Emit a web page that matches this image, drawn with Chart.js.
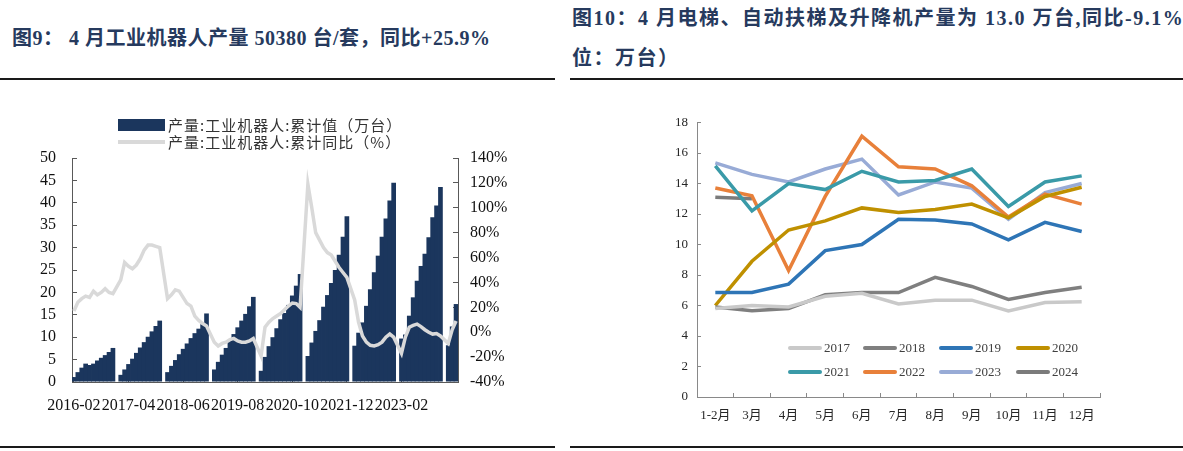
<!DOCTYPE html>
<html lang="zh-CN">
<head>
<meta charset="UTF-8">
<title>工业机器人与电梯产量</title>
<script src="https://cdn.jsdelivr.net/npm/chart.js@4.4.1/dist/chart.umd.min.js"></script>
<style>
    html, body { margin: 0; padding: 0; background: #fff; }
    body {
        width: 1183px; height: 451px; position: relative; overflow: hidden;
        font-family: "Liberation Serif", "Noto Sans CJK SC", serif;
    }
    .title { position: absolute; white-space: nowrap; font-weight: bold; font-size: 20px; line-height: 20px; color: #263a5e; }
    .rule { position: absolute; height: 2px; background: #1a1a1a; }
    .box { position: absolute; }
    .lg { position: absolute; white-space: nowrap; display: flex; align-items: center; }
    .lg .sw { display: inline-block; }
    .robot-lg { font-family: "Noto Sans CJK SC", sans-serif; font-size: 15px; letter-spacing: 1px; color: #333; left: 118px; }
    .lift-lg { font-size: 13px; color: #404040; }
</style>
</head>
<body>

<div class="title" style="left:12px; top:28px; letter-spacing:0.5px;">图9：&nbsp;4 月工业机器人产量 50380 台/套，同比+25.9%</div>
<div class="title" style="left:572px; top:8px; letter-spacing:1.5px;">图10：4 月电梯、自动扶梯及升降机产量为 13.0 万台,同比-9.1%（单</div>
<div class="title" style="left:572px; top:48px; letter-spacing:1.5px;">位：万台）</div>

<div class="rule" style="left:0; width:555px; top:78px;"></div>
<div class="rule" style="left:570px; width:613px; top:78px;"></div>
<div class="rule" style="left:0; width:555px; top:446px;"></div>
<div class="rule" style="left:570px; width:613px; top:446px;"></div>

<div class="box" style="left:0; top:100px;">
    <canvas id="robotChart" width="560" height="330"></canvas>
</div>
<div class="box" style="left:570px; top:100px;">
    <canvas id="liftChart" width="613" height="340"></canvas>
</div>

<!-- 图例 -->
<div class="lg robot-lg" style="top:114px;">
    <span class="sw" style="width:47px; height:12px; background:#1b365d; margin-right:3px;"></span>产量:工业机器人:累计值（万台）
</div>
<div class="lg robot-lg" style="top:131px;">
    <span class="sw" style="width:47px; height:4px; background:#d9d9d9; margin-right:3px;"></span>产量:工业机器人:累计同比（%）
</div>
<div id="liftLegend"></div>

<script>
    // ---- 图9 数据：工业机器人（每年 2-12 月累计，1 月无数据）----
    const robotYears = [2016, 2017, 2018, 2019, 2020, 2021, 2022, 2023, 2024];

    // 累计值（万台）
    const cum2016 = [1.1, 2.2, 3.2, 4.1, 3.8, 4.1, 4.8, 5.4, 6.0, 6.7, 7.6];
    const cum2017 = [1.6, 2.8, 4.0, 5.2, 6.5, 7.7, 8.9, 10.1, 11.3, 12.5, 13.7];
    const cum2018 = [2.2, 3.6, 4.9, 6.2, 7.4, 8.6, 9.8, 10.9, 11.9, 12.9, 15.3];
    const cum2019 = [2.8, 4.5, 6.1, 7.6, 9.2, 10.7, 12.2, 13.7, 15.2, 16.9, 19.0];
    const cum2020 = [2.5, 5.6, 8.0, 10.0, 12.0, 14.0, 15.4, 17.2, 19.3, 21.5, 24.1];
    const cum2021 = [5.8, 8.8, 11.4, 13.8, 16.8, 19.4, 22.1, 25.0, 28.4, 32.4, 37.0];
    const cum2022 = [8.1, 11.0, 13.3, 17.0, 20.7, 24.5, 28.2, 32.4, 36.5, 40.5, 44.5];
    const cum2023 = [9.7, 10.6, 14.8, 18.9, 22.6, 25.9, 28.6, 32.3, 36.8, 39.4, 43.5];
    const cum2024 = [8.2, 12.4, 17.4];

    // 累计同比（%）
    const yoy2016 = [17, 24, 27, 29, 28, 33, 30, 32, 35, 32, 31];
    const yoy2017 = [42, 56, 53, 51, 54, 59, 66, 70, 70, 69, 68];
    const yoy2018 = [27, 30, 34, 33, 28, 23, 21, 13, 9.5, 7, 5];
    const yoy2019 = [-8, -11, -9, -8, -6, -5, -7, -8, -8, -7, -5];
    const yoy2020 = [-19, 4, 8, 11, 13, 15, 18, 21, 23.5, 23, 20];
    const yoy2021 = [119, 100, 80, 74, 68, 64, 62, 57, 52, 48, 44];
    const yoy2022 = [26, 8, -3, -8, -10.5, -11, -10, -8, -4, -1.5, -4];
    const yoy2023 = [-17, -4, 4, 5.5, 6.5, 4.5, 2, 0, -1.5, -1, -3];
    const yoy2024 = [-9, 2, 9];

    const cumByYear = [cum2016, cum2017, cum2018, cum2019, cum2020, cum2021, cum2022, cum2023, cum2024];
    const yoyByYear = [yoy2016, yoy2017, yoy2018, yoy2019, yoy2020, yoy2021, yoy2022, yoy2023, yoy2024];

    // 拼成按月序列，1 月位置留空
    const robotLabels = [];
    const robotCum = [];
    const robotYoY = [];
    robotYears.forEach((year, k) => {
        if (k > 0) {
            robotLabels.push(year + '-01');
            robotCum.push(null);
            robotYoY.push(null);
        }
        cumByYear[k].forEach((v, j) => {
            const m = j + 2;
            robotLabels.push(year + '-' + (m < 10 ? '0' + m : m));
            robotCum.push(v);
            robotYoY.push(yoyByYear[k][j]);
        });
    });
    const robotLabelStep = 14;
    const robotLabelLast = 84; // 最后一个显示的标签（2023-02）

    // ---- 图10 数据：电梯、自动扶梯及升降机月产量（万台）----
    const liftMonths = ['1-2月', '3月', '4月', '5月', '6月', '7月', '8月', '9月', '10月', '11月', '12月'];
    const lift2017 = [5.8, 6.0, 5.9, 6.6, 6.8, 6.1, 6.35, 6.35, 5.65, 6.2, 6.25];
    const lift2018 = [5.9, 5.65, 5.8, 6.7, 6.85, 6.85, 7.85, 7.25, 6.4, 6.85, 7.2];
    const lift2019 = [6.85, 6.85, 7.4, 9.6, 10.0, 11.65, 11.6, 11.35, 10.3, 11.45, 10.85];
    const lift2020 = [6.0, 8.9, 10.95, 11.55, 12.4, 12.1, 12.3, 12.65, 11.75, 13.15, 13.75];
    const lift2021 = [15.15, 12.2, 14.0, 13.6, 14.8, 14.1, 14.2, 14.95, 12.5, 14.1, 14.5];
    const lift2022 = [13.7, 13.2, 8.3, 13.15, 17.1, 15.1, 14.95, 13.85, 11.8, 13.3, 12.65];
    const lift2023 = [15.35, 14.6, 14.1, 14.95, 15.6, 13.25, 14.1, 13.7, 11.65, 13.4, 14.0];
    const lift2024 = [13.1, 13.0];

    const liftSeriesNames = ['2017', '2018', '2019', '2020', '2021', '2022', '2023', '2024'];
    const liftSeries = [lift2017, lift2018, lift2019, lift2020, lift2021, lift2022, lift2023, lift2024];
    const liftColors = ['#c9c9c9', '#7f7f7f', '#2e75b6', '#bf9000', '#3a9aa8', '#e8803a', '#98abd6', '#7b7b7b'];

    const serif = '"Liberation Serif", "Noto Sans CJK SC", serif';

    // 图9
    new Chart(document.getElementById('robotChart'), {
        data: {
            labels: robotLabels,
            datasets: [
                {
                    type: 'line',
                    label: '产量:工业机器人:累计同比（%）',
                    data: robotYoY,
                    yAxisID: 'yRight',
                    borderColor: '#d9d9d9',
                    borderWidth: 3.5,
                    pointRadius: 0,
                    spanGaps: true,
                    tension: 0,
                    order: 0
                },
                {
                    type: 'bar',
                    label: '产量:工业机器人:累计值（万台）',
                    data: robotCum,
                    yAxisID: 'yLeft',
                    backgroundColor: '#1b365d',
                    borderWidth: 0,
                    barPercentage: 1.2,
                    categoryPercentage: 1,
                    order: 1
                }
            ]
        },
        options: {
            responsive: false,
            animation: false,
            layout: { padding: { top: 58, left: 0, right: 0, bottom: 0 } },
            plugins: { legend: { display: false }, tooltip: { enabled: false } },
            scales: {
                x: {
                    grid: { offset: false, drawOnChartArea: false, tickLength: -5, color: '#595959' },
                    border: { color: '#595959' },
                    ticks: {
                        autoSkip: false, maxRotation: 0, padding: 19,
                        color: '#111', font: { family: serif, size: 16 },
                        callback: (v, i) => (i % robotLabelStep === 0 && i <= robotLabelLast ? robotLabels[i] : null)
                    },
                    afterFit: s => { s.height = 48; }
                },
                yLeft: {
                    position: 'left', min: 0, max: 50,
                    grid: { drawOnChartArea: false, tickLength: -5, color: '#595959' },
                    border: { color: '#595959' },
                    ticks: { stepSize: 5, padding: 21, color: '#111', font: { family: serif, size: 16 } },
                    afterFit: s => { s.width = 72; }
                },
                yRight: {
                    position: 'right', min: -40, max: 140,
                    grid: { drawOnChartArea: false, tickLength: -5, color: '#595959' },
                    border: { color: '#595959' },
                    ticks: { stepSize: 20, padding: 17, color: '#111', font: { family: serif, size: 16 },
                        callback: v => v + '%' },
                    afterFit: s => { s.width = 102; }
                }
            }
        }
    });

    // 图10
    new Chart(document.getElementById('liftChart'), {
        type: 'line',
        data: {
            labels: liftMonths,
            datasets: liftSeries.map((d, i) => ({
                label: liftSeriesNames[i],
                data: d,
                borderColor: liftColors[i],
                backgroundColor: liftColors[i],
                borderWidth: 3.5,
                pointRadius: 0,
                tension: 0
            }))
        },
        options: {
            responsive: false,
            animation: false,
            layout: { padding: { top: 22.5, right: 83, left: 0, bottom: 0 } },
            plugins: { legend: { display: false }, tooltip: { enabled: false } },
            scales: {
                x: {
                    offset: true,
                    grid: { offset: true, drawOnChartArea: false, tickLength: -4, color: '#898989' },
                    border: { color: '#898989' },
                    ticks: { padding: 15, color: '#262626', font: { family: serif, size: 13 } },
                    afterFit: s => { s.height = 43; }
                },
                y: {
                    min: 0, max: 18,
                    grid: { drawOnChartArea: false, tickLength: -4, color: '#898989' },
                    border: { color: '#898989' },
                    ticks: { stepSize: 2, padding: 13, color: '#262626', font: { family: serif, size: 13 } },
                    afterFit: s => { s.width = 127; }
                }
            }
        }
    });

    // 图10 图例（两行四列，放在绘图区内）
    const legendBox = document.getElementById('liftLegend');
    const legendX = [788, 863, 939, 1016];
    const legendY = [340, 364];
    liftSeriesNames.forEach((name, i) => {
        const item = document.createElement('div');
        item.className = 'lg lift-lg';
        item.style.left = legendX[i % 4] + 'px';
        item.style.top = legendY[Math.floor(i / 4)] + 'px';
        item.innerHTML = '<span class="sw" style="width:34px;height:4px;border-radius:2px;background:' +
            liftColors[i] + ';margin-right:2px;"></span>' + name;
        legendBox.appendChild(item);
    });
</script>
</body>
</html>
